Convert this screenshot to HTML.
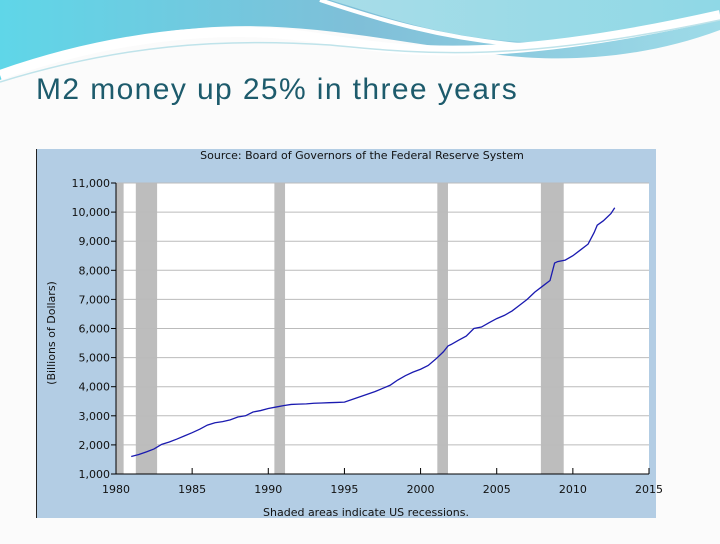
<!DOCTYPE html>
<html><head><meta charset="utf-8"><style>
body{margin:0;width:720px;height:540px;overflow:hidden;background:#fbfbfb;font-family:"DejaVu Sans","Liberation Sans",sans-serif}
</style></head><body>
<svg width="720" height="540" xmlns="http://www.w3.org/2000/svg">
<defs>
<linearGradient id="hg" x1="0" y1="0" x2="1" y2="0"><stop offset="0" stop-color="#5fd6e8"/><stop offset="0.5" stop-color="#7fbfd8"/><stop offset="1" stop-color="#9edbe8"/></linearGradient>
<linearGradient id="hg2" x1="0" y1="0" x2="1" y2="0"><stop offset="0" stop-color="#a8dde8"/><stop offset="1" stop-color="#8fd8e6"/></linearGradient>
</defs>
<g>
<path d="M0 0 H720 V30 C640 60 560 62 500 55 C380 40 300 20 200 28 C110 35 40 60 0 80 Z" fill="url(#hg)"/>
<path d="M330 0 H720 V10 C650 45 560 48 480 38 C420 30 370 12 330 0 Z" fill="url(#hg2)"/>
<path d="M320 0 C380 20 440 38 520 45" stroke="#fff" stroke-width="4" fill="none"/>
<path d="M0 75 C100 40 220 20 330 40 C420 55 520 60 720 15" stroke="#fff" stroke-width="10" fill="none"/>
<path d="M0 82 C120 45 220 38 330 45 C430 55 520 62 720 20" stroke="#bfe3ea" stroke-width="1.5" fill="none"/>
</g>
<text x="36" y="99" font-family="Liberation Sans, sans-serif" font-size="30" letter-spacing="1.3" textLength="482" fill="#1d5b6c">M2 money up 25% in three years</text>
<rect x="36" y="149" width="620" height="369" fill="#b3cde4"/>
<line x1="36.5" y1="149" x2="36.5" y2="518" stroke="#222" stroke-width="1"/>
<text x="362" y="159" font-size="11" text-anchor="middle" fill="#111">Source: Board of Governors of the Federal Reserve System</text>
<text x="366" y="516" font-size="11" text-anchor="middle" fill="#111">Shaded areas indicate US recessions.</text>
<text transform="translate(55,333) rotate(-90)" font-size="11" text-anchor="middle" fill="#111">(Billions of Dollars)</text>
<rect x="116" y="183" width="533" height="291" fill="#fff"/>
<g id="chart"></g>
</svg>
<script>
const yTicks=[1000,2000,3000,4000,5000,6000,7000,8000,9000,10000,11000];
const xTicks=[1980,1985,1990,1995,2000,2005,2010,2015];
const recStart=[1980.0,1981.3,1990.4,2001.1,2007.9];
const recEnd=[1980.5,1982.7,1991.1,2001.8,2009.4];
const years=[1981,1981.5,1982,1982.5,1983,1983.5,1984,1984.5,1985,1985.5,1986,1986.5,1987,1987.5,1988,1988.5,1989,1989.5,1990,1990.5,1991,1991.5,1992,1992.5,1993,1993.5,1994,1994.5,1995,1995.5,1996,1996.5,1997,1997.5,1998,1998.5,1999,1999.5,2000,2000.5,2001,2001.5,2001.8,2002,2002.5,2003,2003.5,2004,2004.5,2005,2005.5,2006,2006.5,2007,2007.5,2008,2008.5,2008.8,2009,2009.5,2010,2010.5,2011,2011.4,2011.6,2012,2012.5,2012.75];
const m2=[1600,1670,1760,1860,2020,2100,2200,2310,2420,2540,2680,2760,2800,2860,2960,3000,3130,3180,3250,3300,3350,3390,3400,3410,3430,3440,3450,3460,3470,3560,3650,3740,3830,3940,4050,4230,4380,4500,4600,4730,4950,5200,5400,5450,5600,5740,6000,6050,6200,6340,6450,6600,6800,7000,7250,7450,7650,8250,8300,8350,8500,8700,8900,9300,9550,9700,9950,10150];
const X0=116,X1=649,Y0=474,Y1=183;
const xs=v=>X0+(v-1980)/35*(X1-X0);
const ys=v=>Y0-(v-1000)/10000*(Y0-Y1);
const g=document.getElementById('chart');const NS='http://www.w3.org/2000/svg';
function mk(t,a){const e=document.createElementNS(NS,t);for(const k in a)e.setAttribute(k,a[k]);g.appendChild(e);return e;}
recStart.forEach((s,i)=>{const r=mk('rect',{x:xs(s),y:Y1,width:xs(recEnd[i])-xs(s),height:Y0-Y1,fill:'#bdbdbd'});

});
yTicks.forEach(v=>{const y=ys(v);
if(v>1000){const l=mk('line',{x1:X0,x2:X1,y1:y,y2:y,stroke:'#bbb','stroke-width':1});

}
mk('line',{x1:X0-5,x2:X0,y1:y,y2:y,stroke:'#000'});
const t=mk('text',{x:X0-6,y:y+4,'font-size':11,'text-anchor':'end',fill:'#111'});t.textContent=v.toLocaleString('en-US');

});
xTicks.forEach(v=>{const x=xs(v);mk('line',{x1:x,x2:x,y1:Y0,y2:Y0-6,stroke:'#000'});
const t=mk('text',{x:x,y:Y0+19,'font-size':11,'text-anchor':'middle',fill:'#111'});t.textContent=v;

});
mk('line',{x1:X0,x2:X1,y1:Y0,y2:Y0,stroke:'#000'});
mk('line',{x1:X0,x2:X0,y1:Y1,y2:Y0,stroke:'#000'});
const p=mk('polyline',{points:years.map((y,i)=>xs(y)+','+ys(m2[i])).join(' '),fill:'none',stroke:'#1a1ab0','stroke-width':1.3});


</script>
</body></html>
